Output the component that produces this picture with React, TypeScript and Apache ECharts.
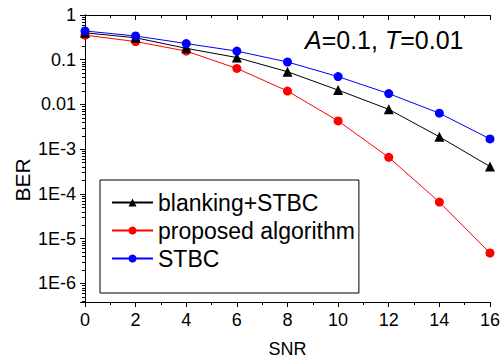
import React, { useEffect, useRef } from "react";
import * as echarts from "echarts";

const snr = [0, 2, 4, 6, 8, 10, 12, 14, 16];
const blankingStbc = [0.4, 0.31, 0.18, 0.112, 0.054, 0.021, 0.0078, 0.0019, 0.00041];
const proposed = [0.355, 0.255, 0.156, 0.064, 0.02, 0.0043, 0.00066, 0.000066, 0.0000048];
const stbc = [0.44, 0.34, 0.23, 0.156, 0.089, 0.042, 0.0175, 0.0064, 0.0017];
const seriesNames = ["blanking+STBC", "proposed algorithm", "STBC"];
const yTickLabels: Record<string, string> = {
  "-6": "1E-6",
  "-5": "1E-5",
  "-4": "1E-4",
  "-3": "1E-3",
  "-2": "0.01",
  "-1": "0.1",
  "0": "1",
};

const FONT = "'Liberation Sans', Arial, Helvetica, sans-serif";

export default function App() {
  const ref = useRef<HTMLDivElement>(null);
  useEffect(() => {
    if (!ref.current) return;
    const chart = echarts.init(ref.current, null, { renderer: "svg" });
    const yMin = 3.86e-7;
    const yMax = 1;
    const pair = (vals: number[]) => snr.map((x, i) => [x, vals[i]]);
    chart.setOption({
      animation: false,
      backgroundColor: "#fff",
      grid: { left: 85, right: 13, top: 15, bottom: 48, containLabel: false },
      xAxis: [
        {
          type: "value",
          min: 0,
          max: 16,
          interval: 2,
          position: "bottom",
          name: "SNR",
          nameLocation: "middle",
          nameGap: 38,
          nameTextStyle: { fontSize: 18, color: "#000", fontFamily: FONT },
          axisLine: { show: true, lineStyle: { color: "#000", width: 1 } },
          axisTick: { show: true, inside: false, length: 5, lineStyle: { color: "#000" } },
          minorTick: { show: true, splitNumber: 2, length: 3, lineStyle: { color: "#000" } },
          axisLabel: { fontSize: 18, color: "#000", fontFamily: FONT, margin: 9 },
          splitLine: { show: false },
        },
        {
          type: "value",
          min: 0,
          max: 16,
          interval: 2,
          position: "top",
          axisLine: { show: true, lineStyle: { color: "#000", width: 1 } },
          axisTick: { show: true, inside: true, length: 5, lineStyle: { color: "#000" } },
          minorTick: { show: true, splitNumber: 2, length: 3, lineStyle: { color: "#000" } },
          axisLabel: { show: false },
          splitLine: { show: false },
        },
      ],
      yAxis: [
        {
          type: "log",
          logBase: 10,
          min: yMin,
          max: yMax,
          position: "left",
          axisLine: { show: true, lineStyle: { color: "#000", width: 1 } },
          axisTick: { show: true, inside: false, length: 5, lineStyle: { color: "#000" } },
          minorTick: { show: true, splitNumber: 9, length: 3, lineStyle: { color: "#000" } },
          axisLabel: {
            fontSize: 18,
            color: "#000",
            fontFamily: FONT,
            margin: 9,
            showMinLabel: false,
            formatter: (v: number) => {
              const e = Math.round(Math.log10(v));
              if (Math.abs(Math.log10(v) - e) > 1e-6) return "";
              return yTickLabels[String(e)] ?? "";
            },
          },
          splitLine: { show: false },
        },
        {
          type: "log",
          logBase: 10,
          min: yMin,
          max: yMax,
          position: "right",
          axisLine: { show: true, lineStyle: { color: "#000", width: 1 } },
          axisTick: { show: true, inside: true, length: 5, lineStyle: { color: "#000" } },
          minorTick: { show: true, splitNumber: 9, length: 3, lineStyle: { color: "#000" } },
          axisLabel: { show: false },
          splitLine: { show: false },
        },
      ],
      legend: {
        orient: "vertical",
        left: 100,
        top: 180,
        backgroundColor: "#fff",
        borderColor: "#000",
        borderWidth: 1,
        borderRadius: 0,
        padding: [11, 4, 23, 11],
        itemWidth: 41,
        itemHeight: 10,
        itemGap: 5,
        textStyle: { fontSize: 23, color: "#000", fontFamily: FONT },
        data: seriesNames,
      },
      graphic: [
        {
          type: "text",
          left: 305,
          top: 27,
          style: {
            text: "{i|A}=0.1, {i|T}=0.01",
            fontSize: 25,
            fill: "#000",
            fontFamily: FONT,
            rich: { i: { fontStyle: "italic", fontSize: 25, fontFamily: FONT } },
          },
        },
        {
          type: "text",
          x: 22,
          y: 180,
          rotation: Math.PI / 2,
          style: {
            text: "BER",
            fontSize: 21,
            fill: "#000",
            fontFamily: FONT,
            align: "center",
            verticalAlign: "middle",
          },
        },
      ],
      series: [
        {
          name: seriesNames[0],
          type: "line",
          data: pair(blankingStbc),
          symbol: "triangle",
          symbolSize: 10,
          color: "#000",
          lineStyle: { color: "#000", width: 1 },
          itemStyle: { color: "#000" },
          z: 3,
        },
        {
          name: seriesNames[1],
          type: "line",
          data: pair(proposed),
          symbol: "circle",
          symbolSize: 9,
          color: "#ff0000",
          lineStyle: { color: "#ff0000", width: 1 },
          itemStyle: { color: "#ff0000" },
          z: 2,
        },
        {
          name: seriesNames[2],
          type: "line",
          data: pair(stbc),
          symbol: "circle",
          symbolSize: 9,
          color: "#0000ff",
          lineStyle: { color: "#0000ff", width: 1 },
          itemStyle: { color: "#0000ff" },
          z: 4,
        },
      ],
    });
    return () => chart.dispose();
  }, []);
  return (
    <div
      ref={ref}
      style={{ position: "absolute", left: 0, top: 0, width: 503, height: 363 }}
    />
  );
}
